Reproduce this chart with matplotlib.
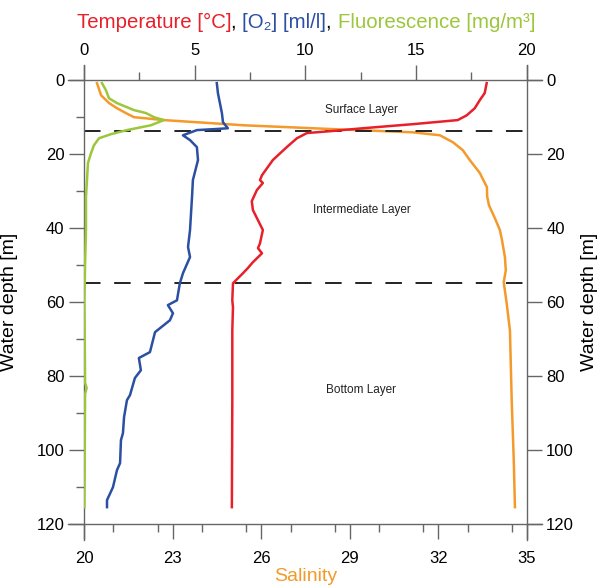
import matplotlib.pyplot as plt
from matplotlib.ticker import MultipleLocator
from matplotlib.offsetbox import TextArea, HPacker, AnchoredOffsetbox

plt.rcParams['font.family'] = ['Liberation Sans', 'DejaVu Sans']

# profile data (depth in m)
temp_depth = [0.8, 3.5, 5.4, 7.6, 9.5, 10.8, 11.9, 13.0, 13.8, 14.3, 15.7, 18.1, 21.6,
              25.7, 27.0, 27.8, 29.7, 32.7, 35.1, 40.5, 44.1, 45.4, 46.8, 49.2, 50.8,
              52.2, 54.1, 54.9, 59.5, 61.4, 67.6, 86.5, 115.4]
temp = [18.19, 18.10, 17.88, 17.65, 17.29, 16.88, 14.85, 12.60, 11.11, 10.07, 9.62, 9.16,
        8.53, 8.04, 7.95, 8.08, 7.81, 7.58, 7.63, 8.08, 7.95, 7.86, 8.04, 7.63, 7.40,
        7.18, 6.86, 6.73, 6.70, 6.73, 6.70, 6.70, 6.68]

sal_depth = [0.8, 4.1, 6.2, 7.6, 8.9, 10.0, 10.8, 12.2, 13.2, 14.1, 14.9, 16.8, 18.9,
             21.6, 25.1, 28.9, 31.5, 33.8, 37.3, 40.5, 43.2, 47.8, 51.4, 54.6, 60.3, 67.6,
             86.5, 102.7, 115.4]
salinity = [20.44, 20.58, 20.85, 21.12, 21.42, 21.69, 22.71, 25.42, 28.33, 31.14, 32.06,
            32.50, 32.83, 33.07, 33.41, 33.65, 33.66, 33.72, 33.92, 34.09, 34.16, 34.26,
            34.29, 34.22, 34.32, 34.43, 34.49, 34.56, 34.60]

fl_depth = [0.8, 2.7, 4.9, 6.2, 8.1, 8.9, 10.0, 10.8, 12.2, 13.5, 14.6, 15.7, 17.6,
            19.7, 22.4, 31.6, 40.5, 49.5, 59.5, 81.8, 83.2, 84.8, 115.4]
fluor = [0.81, 0.99, 1.13, 1.49, 2.26, 2.80, 3.16, 3.61, 3.02, 1.94, 1.22, 0.68, 0.45,
         0.32, 0.18, 0.09, 0.09, 0.05, 0.02, 0.05, 0.12, 0.05, 0.02]

o2_depth = [0.8, 3.5, 6.2, 8.9, 11.4, 13.0, 13.2, 13.5, 14.9, 16.2, 18.1, 21.6, 27.0,
            31.6, 40.5, 45.1, 47.8, 52.2, 54.9, 59.5, 60.8, 63.0, 64.9, 68.1, 73.5,
            75.1, 78.4, 80.5, 85.1, 86.5, 91.1, 95.4, 97.3, 103.5, 105.4, 110.0, 113.5,
            115.4]
o2 = [6.00, 6.05, 6.14, 6.23, 6.28, 6.50, 6.00, 5.10, 4.47, 4.79, 5.10, 5.15, 4.92,
      4.88, 4.79, 4.70, 4.79, 4.47, 4.33, 4.20, 3.79, 4.02, 3.88, 3.21, 2.98, 2.48,
      2.57, 2.30, 2.08, 1.94, 1.81, 1.76, 1.67, 1.63, 1.49, 1.31, 1.04, 1.04]

layer_bounds = [13.8, 54.9]
layer_names = ['Surface Layer', 'Intermediate Layer', 'Bottom Layer']
layer_label_depth = [8.1, 35.1, 83.8]

red = '#e8202a'
blue = '#2b4fa2'
green = '#9cc63c'
orange = '#f39a2b'
axcol = '#666666'

fig = plt.figure(figsize=(6.02, 5.85), dpi=100)
ax = fig.add_axes([0.1395, 0.104, 0.7355, 0.759])
ax.set_xlim(20, 35)
ax.set_ylim(120, 0)
ax2 = ax.twiny()
ax2.set_xlim(0, 20)

ax.plot(salinity, sal_depth, color=orange, lw=1.8)
ax2.plot(fluor, fl_depth, color=green, lw=1.8)
ax2.plot(o2, o2_depth, color=blue, lw=1.8)
ax2.plot(temp, temp_depth, color=red, lw=1.8)

for d in layer_bounds:
    ax.axhline(d, color='#222222', lw=1.4, dashes=(8.5, 7))
for name, d in zip(layer_names, layer_label_depth):
    ax.text(29.4, d, name, ha='center', va='center', fontsize=8.5, color='#222222')

# frame lines that run past the corners
e = 0.035
for a in (ax, ax2):
    for s in a.spines.values():
        s.set_visible(False)
for xs, ys in [([-e, 1 + e], [1, 1]), ([-e, 1 + e], [0, 0]),
               ([0, 0], [-e, 1 + e]), ([1, 1], [-e, 1 + e])]:
    ax.plot(xs, ys, transform=ax.transAxes, color=axcol, lw=1, clip_on=False)

ax.set_xticks([20, 23, 26, 29, 32, 35])
ax.xaxis.set_minor_locator(MultipleLocator(1.5))
ax.set_yticks(range(0, 121, 20))
ax.yaxis.set_minor_locator(MultipleLocator(10))
ax2.set_xticks([0, 5, 10, 15, 20])
ax2.xaxis.set_minor_locator(MultipleLocator(2.5))

ax.tick_params(axis='y', left=True, right=True, labelleft=True, labelright=True)
for a in (ax, ax2):
    a.tick_params(which='major', direction='out', length=11, width=1, color=axcol,
                  labelsize=12, pad=3)
    a.tick_params(which='minor', direction='out', length=5.5, width=1, color=axcol)
ax.tick_params(axis='x', pad=8)
ax2.tick_params(axis='x', pad=5)

ax.set_ylabel('Water depth [m]', fontsize=14)
ax.yaxis.set_label_coords(-0.149, 0.5)
ax.text(1.142, 0.5, 'Water depth [m]', transform=ax.transAxes, rotation=90,
        ha='center', va='center', fontsize=14)
ax.set_xlabel('Salinity', fontsize=14, color=orange)
ax.xaxis.set_label_coords(0.5, -0.099)

parts = [('Temperature [°C]', red), (', ', 'black'), ('[O₂] [ml/l]', blue),
         (', ', 'black'), ('Fluorescence [mg/m³]', green)]
box = HPacker(children=[TextArea(t, textprops=dict(color=c, fontsize=14.7)) for t, c in parts],
              align='baseline', pad=0, sep=0)
title = AnchoredOffsetbox(loc='center', child=box, pad=0, borderpad=0, frameon=False,
                          bbox_to_anchor=(0.508, 0.962), bbox_transform=fig.transFigure)
fig.add_artist(title)

fig.savefig('out.png', dpi=100)
